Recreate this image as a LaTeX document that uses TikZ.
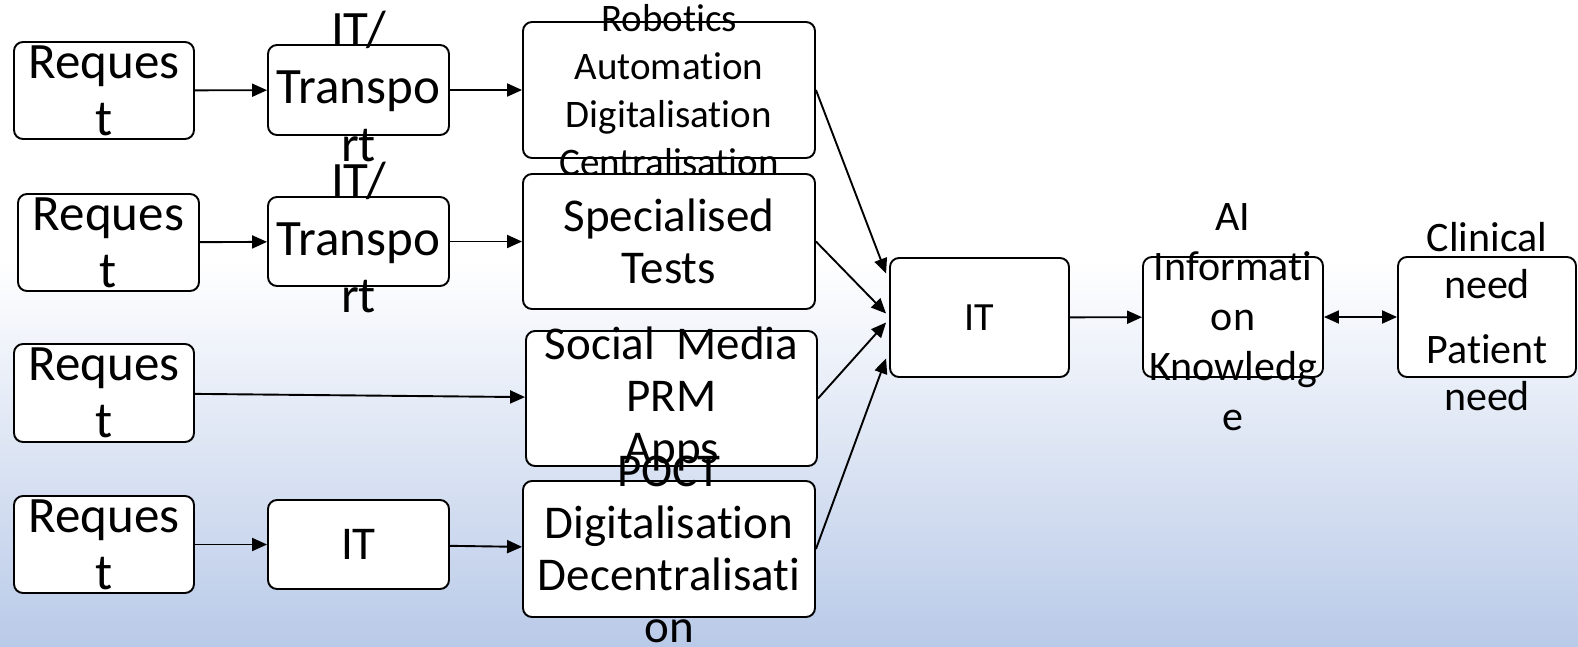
\documentclass[tikz,border=0pt]{standalone}
\usepackage{fontspec}
\setmainfont{Carlito}[Ligatures=NoCommon]
\usetikzlibrary{arrows.meta}
\definecolor{bgblue}{HTML}{B9CAE8}
\tikzset{
  blk/.style 2 args={draw, fill=white, line width=1.9pt, rounded corners=9pt,
    minimum width=#1, minimum height=#2, inner sep=0pt},
  fs/.style 2 args={font=\fontsize{#1}{#2}\selectfont, align=center},
  arr/.style={line width=1.9pt, ->},
  >={Triangle[length=15pt,width=13pt]}
}
\begin{document}
\begin{tikzpicture}[x=1pt,y=-1pt]
\useasboundingbox (0,0) rectangle (1578,646);
%% background
\fill[white] (0,0) rectangle (1578,261);
\shade[top color=white, bottom color=bgblue] (0,260) rectangle (1578,646);
%% first row
\node[blk={180}{97}, label={[fs={51}{57}]center:Reques\\t}] (req1) at (104,90.5) {};
\node[blk={181}{90}, label={[fs={51}{57.5}, yshift=4pt]center:IT/\\Transpo\\rt}] (tra1) at (358.5,90) {};
\node[blk={292}{136}, label={[fs={39}{48}]center:Robotics\\Automation\\Digitalisation\\Centralisation}] (robo) at (669,90) {};
%% second row
\node[blk={181}{97}, label={[fs={51}{57}]center:Reques\\t}] (req2) at (108.5,242.5) {};
\node[blk={181}{89}, label={[fs={51}{57.5}, yshift=4pt]center:IT/\\Transpo\\rt}] (tra2) at (358.5,241.5) {};
\node[blk={292}{135}, label={[fs={47}{52}]center:Specialised\\Tests}] (spec) at (669,241.5) {};
%% third row
\node[blk={180}{98}, label={[fs={51}{57}]center:Reques\\t}] (req3) at (104,393) {};
\node[blk={291}{135}, label={[fs={47}{52}]center:Social~~Media\\PRM\\Apps}] (soci) at (671.5,398.5) {};
%% fourth row
\node[blk={180}{97}, label={[fs={51}{57}]center:Reques\\t}] (req4) at (104,544.5) {};
\node[blk={181}{89}, fs={47}{52}] (it4) at (358.5,544.5) {IT};
\node[blk={292}{136}, label={[fs={47}{52}]center:POCT\\Digitalisation\\Decentralisati\\on}] (poct) at (669,549) {};
%% right part
\node[blk={179}{119}, fs={40}{48}] (itc) at (979.5,317.5) {IT};
\node[blk={180}{120}, label={[fs={42}{50}]center:AI\\Informati\\on\\Knowledg\\e}] (info) at (1233,317) {};
\node[blk={178}{120}, label={[fs={42}{47}]center:Clinical\\need\\[18pt]Patient\\need}] (clin) at (1487,317) {};
%% arrows
\draw[arr] (req1) -- (tra1);
\draw[arr] (tra1) -- (robo);
\draw[arr] (req2) -- (tra2);
\draw[arr] (tra2) -- (spec);
\draw[arr] (req3) -- (soci);
\draw[arr] (req4) -- (it4);
\draw[arr] (it4) -- (poct);
\draw[arr] (robo.east) -- ([shift={(-3pt,44pt)}]itc.west);
\draw[arr] (spec.east) -- ([shift={(-3pt,4pt)}]itc.west);
\draw[arr] (soci.east) -- ([shift={(-3pt,-5pt)}]itc.west);
\draw[arr] (poct.east) -- ([shift={(-3pt,-41pt)}]itc.west);
\draw[arr] (itc) -- (info);
\draw[arr, <->] (info) -- (clin);
\end{tikzpicture}
\end{document}
